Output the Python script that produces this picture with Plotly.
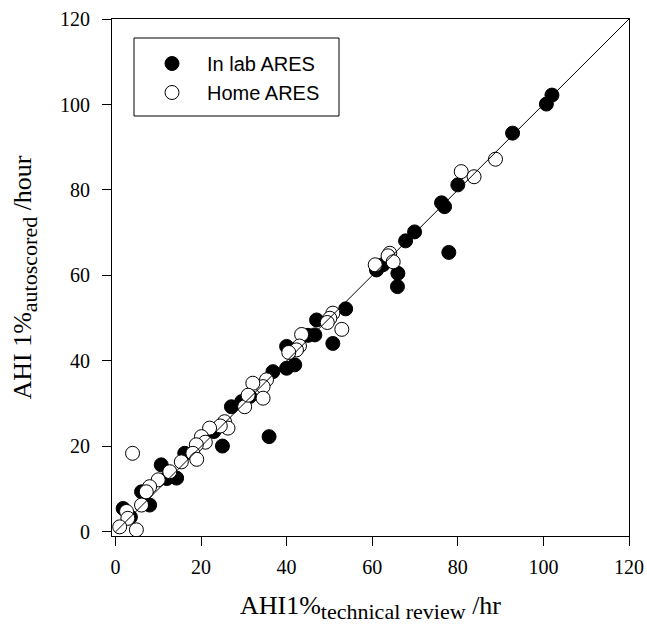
import plotly.graph_objects as go

# In lab ARES (filled)
lab_x = [102.0, 100.7, 92.8, 80.0, 76.2, 76.9, 77.9, 69.9, 67.8, 61.0, 62.5, 66.0, 65.9,
         53.8, 47.0, 46.6, 45.0, 50.8, 40.0, 41.9, 40.0, 36.8, 31.4, 29.5, 27.1, 35.9,
         25.0, 23.0, 20.5, 16.2, 14.3, 12.0, 10.7, 6.1, 8.0, 1.8, 3.5]
lab_y = [102.2, 100.1, 93.3, 81.2, 77.0, 76.1, 65.4, 70.2, 68.1, 61.3, 62.5, 60.5, 57.4,
         52.2, 49.6, 46.1, 46.0, 44.1, 43.4, 39.1, 38.3, 37.5, 31.7, 30.5, 29.3, 22.3,
         20.1, 23.5, 21.5, 18.4, 12.6, 12.5, 15.7, 9.4, 6.3, 5.5, 3.5]

# Home ARES (open)
home_x = [88.8, 80.8, 83.8, 64.1, 63.7, 64.9, 60.7, 50.8, 50.1, 49.5, 52.9, 43.5, 43.0,
          42.3, 40.5, 35.3, 34.5, 32.1, 34.5, 30.2, 31.0, 25.5, 26.3, 24.5, 22.0, 20.1,
          21.0, 18.9, 18.1, 19.0, 15.4, 12.7, 10.0, 8.0, 7.2, 6.1, 2.6, 2.9, 1.0, 4.9, 4.0]
home_y = [87.2, 84.3, 83.1, 65.2, 64.6, 63.2, 62.5, 51.2, 50.0, 49.0, 47.4, 46.2, 43.5,
          42.6, 42.0, 35.6, 34.0, 34.8, 31.3, 29.3, 32.0, 25.8, 24.3, 24.8, 24.3, 22.3,
          21.0, 20.4, 18.4, 17.0, 16.4, 14.1, 12.2, 10.6, 9.4, 6.3, 4.8, 3.2, 1.2, 0.5, 18.4]

identity = [0, 120]
ticks = [0, 20, 40, 60, 80, 100, 120]
tick_text = [str(t) for t in ticks]

serif = "Liberation Serif, Times New Roman, serif"
sans = "Liberation Sans, Arial, sans-serif"

fig = go.Figure()
fig.add_trace(go.Scatter(
    x=lab_x, y=lab_y, mode="markers", name="In lab ARES",
    marker=dict(size=14, color="black", line=dict(color="black", width=1)),
))
fig.add_trace(go.Scatter(
    x=home_x, y=home_y, mode="markers", name="Home ARES",
    marker=dict(size=14, color="white", line=dict(color="black", width=1)),
))
fig.add_trace(go.Scatter(
    x=identity, y=identity, mode="lines", showlegend=False,
    line=dict(color="black", width=1), hoverinfo="skip",
))

W, H = 647, 625
L, R, T, B = 112, 18, 19, 89
pw, ph = W - L - R, H - T - B

def px2paper_x(p):
    return (p - L) / pw

def px2paper_y(p):
    return 1 - (p - T) / ph

fig.update_layout(
    width=W, height=H,
    margin=dict(l=L, r=R, t=T, b=B, autoexpand=False),
    paper_bgcolor="white", plot_bgcolor="white",
    font=dict(family=serif, color="black"),
    showlegend=True,
    legend=dict(
        x=px2paper_x(137), y=px2paper_y(44), xanchor="left", yanchor="top",
        bgcolor="rgba(0,0,0,0)", borderwidth=0,
        font=dict(family=sans, size=20, color="black"),
        itemwidth=60, tracegroupgap=0,
    ),
    shapes=[dict(
        type="rect", xref="paper", yref="paper",
        x0=px2paper_x(134), x1=px2paper_x(339),
        y0=px2paper_y(116), y1=px2paper_y(38),
        line=dict(color="black", width=1), fillcolor="rgba(0,0,0,0)",
        layer="above",
    )],
    xaxis=dict(
        range=[-0.8, 120], tickvals=ticks, ticktext=tick_text,
        showgrid=False, zeroline=False,
        showline=True, linecolor="black", linewidth=1, mirror=True,
        ticks="outside", ticklen=9, tickcolor="black", tickwidth=1,
        tickfont=dict(family=serif, size=20, color="black"),
        ticklabelstandoff=4,
        title=dict(
            text="AHI1%<sub><span style='font-size:22px'>technical review</span></sub> /hr",
            font=dict(family=serif, size=26, color="black"), standoff=18,
        ),
    ),
    yaxis=dict(
        range=[-0.94, 120], tickvals=ticks, ticktext=tick_text,
        showgrid=False, zeroline=False,
        showline=True, linecolor="black", linewidth=1, mirror=True,
        ticks="outside", ticklen=9, tickcolor="black", tickwidth=1,
        tickfont=dict(family=serif, size=20, color="black"),
        ticklabelstandoff=8,
        title=dict(
            text="AHI 1%<sub><span style='font-size:22px'>autoscored</span></sub> /hour",
            font=dict(family=serif, size=26, color="black"), standoff=20,
        ),
    ),
)

fig.write_html(
    "out.html",
    config={"displayModeBar": False},
    post_script="document.body.style.margin='0';document.body.style.overflow='hidden';",
)
